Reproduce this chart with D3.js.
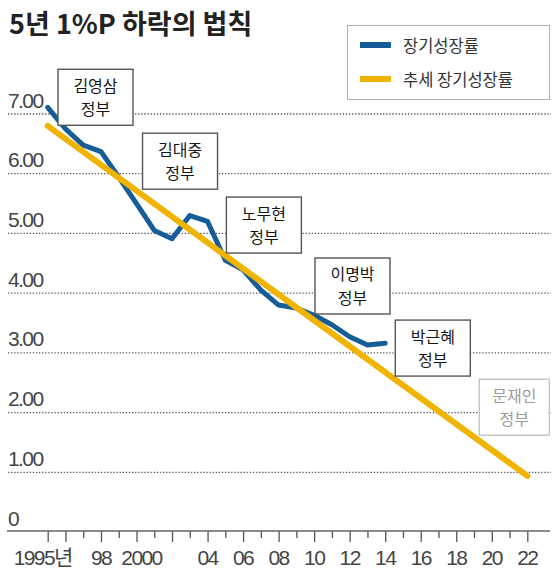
<!DOCTYPE html>
<html>
<head>
<meta charset="utf-8">
<script src="https://cdn.jsdelivr.net/npm/d3@7"></script>
<style>
html,body{margin:0;padding:0;background:#fff;}
svg{display:block;}
</style>
</head>
<body>
<svg id="chart" width="559" height="573"></svg>
<script>
// ---- data ----
const title = "5년 1%P 하락의 법칙";
const years = [1995,1996,1997,1998,1999,2000,2001,2002,2003,2004,2005,2006,2007,2008,2009,2010,2011,2012,2013,2014];
const growth = [7.11,6.75,6.48,6.37,5.94,5.50,5.05,4.91,5.30,5.20,4.55,4.39,4.05,3.80,3.75,3.63,3.47,3.27,3.13,3.16];
const trendYears = [1995,2022];
const trendValues = [6.80,0.94];
const yTicks = [0,1,2,3,4,5,6,7];
const yTickLabels = ["0","1.00","2.00","3.00","4.00","5.00","6.00","7.00"];
const xTickYears = [1995,1998,2000,2004,2006,2008,2010,2012,2014,2016,2018,2020,2022];
const xTickLabels = ["1995년","98","2000","04","06","08","10","12","14","16","18","20","22"];
const legendLabels = ["장기성장률","추세 장기성장률"];
const govNames = ["김영삼","김대중","노무현","이명박","박근혜","문재인"];
const govAnchorYear = [1997.69,2002.45,2007.17,2012.16,2016.68,2021.27];
const govAnchorValue = [7.28,6.21,5.14,4.12,3.08,2.09];

// ---- layout ----
const svg = d3.select("#chart");
const x = d3.scaleLinear().domain([1995,2022]).range([47.7,527.3]);
const y = d3.scaleLinear().domain([0,7]).range([532,114]);
const blue = "#165d98", yellow = "#f0b400";
const numFont = "'Liberation Sans','Noto Sans CJK KR',sans-serif";
const krFont = "'Noto Sans CJK KR',sans-serif";

// title
svg.append("text").attr("x",9).attr("y",34)
  .attr("font-family",krFont).attr("font-weight","bold").attr("font-size",27)
  .attr("letter-spacing",0).attr("fill","#222").text(title);

// gridlines
svg.append("g").selectAll("line").data(yTicks.filter(d=>d>0)).join("line")
  .attr("x1",8).attr("x2",551).attr("y1",d=>y(d)).attr("y2",d=>y(d))
  .attr("stroke","#555").attr("stroke-width",1.3).attr("stroke-dasharray","1.3,1.8");

// y labels
svg.append("g").selectAll("text").data(yTicks).join("text")
  .attr("x",8).attr("y",d=>y(d)-6.5)
  .attr("font-family",numFont).attr("font-size",21).attr("letter-spacing",-1.6)
  .attr("fill","#444").text((d,i)=>yTickLabels[i]);

// x axis
const allYears = d3.range(1995,2023);
const xAxis = d3.axisBottom(x).tickValues(allYears)
  .tickSize(0).tickFormat("");
const gx = svg.append("g").attr("transform",`translate(0,${y(0)-1})`).call(xAxis);
gx.select(".domain").remove();
gx.append("line").attr("x1",7).attr("x2",550).attr("y1",0).attr("y2",0)
  .attr("stroke","#666").attr("stroke-width",1.6);
gx.selectAll(".tick line")
  .attr("y2",d=>(d===1995||d%2===0)?11:7)
  .attr("stroke","#555").attr("stroke-width",1.3);
const labelShift = {1995:-5,2000:5};
svg.append("g").selectAll("text").data(xTickYears).join("text")
  .attr("x",d=>x(d)+(labelShift[d]||0)).attr("y",565)
  .attr("text-anchor","middle")
  .attr("font-family",numFont).attr("font-size",21).attr("letter-spacing",-1.6)
  .attr("fill","#444").text((d,i)=>xTickLabels[i]);

// lines
const series = years.map((yr,i)=>({yr,v:growth[i]}));
const trend = trendYears.map((yr,i)=>({yr,v:trendValues[i]}));
const line = d3.line().x(d=>x(d.yr)).y(d=>y(d.v));
svg.append("path").datum(series).attr("d",line).attr("fill","none")
  .attr("stroke",blue).attr("stroke-width",5).attr("stroke-linejoin","round").attr("stroke-linecap","round");
svg.append("path").datum(trend).attr("d",line).attr("fill","none")
  .attr("stroke",yellow).attr("stroke-width",6).attr("stroke-linecap","round");

// government boxes
const boxW = 75, boxH = 56;
const gov = svg.append("g").selectAll("g").data(govNames).join("g")
  .attr("transform",(d,i)=>`translate(${x(govAnchorYear[i])},${y(govAnchorValue[i])})`);
gov.append("rect")
  .attr("x",(d,i)=> i===5 ? -35 : -boxW/2).attr("y",-boxH/2)
  .attr("width",(d,i)=> i===5 ? 70 : boxW).attr("height",boxH)
  .attr("fill","#fff").attr("stroke",(d,i)=> i===5 ? "#c4c4c4" : "#555").attr("stroke-width",1.4);
const gt = gov.append("text").attr("text-anchor","middle")
  .attr("font-family",krFont).attr("font-size",16)
  .attr("fill",(d,i)=> i===5 ? "#9a9a9a" : "#151515");
gt.append("tspan").attr("x",0).attr("y",-5.5).text(d=>d);
gt.append("tspan").attr("x",0).attr("y",18).text("정부");

// legend
const lg = svg.append("g");
lg.append("rect").attr("x",347.5).attr("y",25.5).attr("width",202).attr("height",74)
  .attr("fill","#fff").attr("stroke","#b0b0b0").attr("stroke-width",1);
const lgColors = [blue,yellow];
const lgItems = lg.selectAll("g").data(legendLabels).join("g")
  .attr("transform",(d,i)=>`translate(360,${45+i*34})`);
lgItems.append("line").attr("x1",0).attr("x2",31).attr("y1",0).attr("y2",0)
  .attr("stroke",(d,i)=>lgColors[i]).attr("stroke-width",6);
lgItems.append("text").attr("x",43).attr("y",0).attr("dominant-baseline","central")
  .attr("font-family",krFont).attr("font-size",16.5).attr("fill","#333").text(d=>d);
</script>
</body>
</html>
